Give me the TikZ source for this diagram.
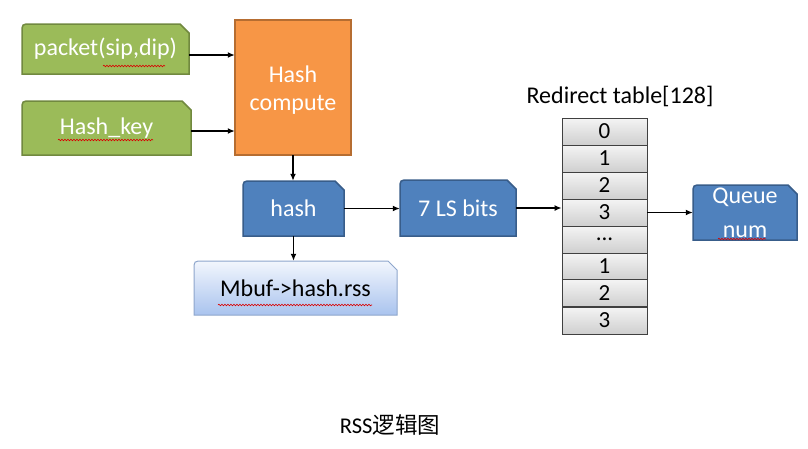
\documentclass[tikz,border=0pt]{standalone}
\usepackage{fontspec}
\setmainfont{Carlito}
\newfontfamily\cjk{Noto Sans CJK SC}
\usetikzlibrary{arrows.meta,calc,decorations.pathmorphing}
\definecolor{grfill}{HTML}{9BBB59}
\definecolor{grline}{HTML}{71893F}
\definecolor{orfill}{HTML}{F79646}
\definecolor{orline}{HTML}{B66D31}
\definecolor{blfill}{HTML}{4F81BD}
\definecolor{blline}{HTML}{385D8A}
\definecolor{mbtop}{HTML}{F2F6FD}
\definecolor{mbbot}{HTML}{A9C3EE}
\definecolor{mbline}{HTML}{8EA6CC}
\definecolor{cltop}{HTML}{F4F4F4}
\definecolor{clbot}{HTML}{CFCFCF}
\definecolor{clline}{HTML}{404040}
\tikzset{
  greenbox/.style={fill=grfill,draw=grline,line width=1.5pt},
  orangebox/.style={fill=orfill,draw=orline,line width=1.5pt},
  bluebox/.style={fill=blfill,draw=blline,line width=1.5pt},
  mbufbox/.style={top color=mbtop,bottom color=mbbot,draw=mbline,line width=1pt},
  boxtext/.style={inner sep=0pt,text=white,font=\fontsize{24}{28}\selectfont,align=center},
  cell/.style={minimum width=85pt,minimum height=27pt,inner sep=0pt,top color=cltop,bottom color=clbot,draw=clline,line width=0.8pt},
  celltext/.style={inner sep=0pt,font=\fontsize{23}{26}\selectfont},
  link/.style={line width=1.6pt,-{Latex[length=7pt,width=6pt]}},
  squiggle/.style={red!85!black,line width=0.6pt,decorate,decoration={snake,amplitude=0.8pt,segment length=3pt}}
}
% #1 name, #2 shape style, #3 x1, #4 y1, #5 x2, #6 y2, #7 text style, #8 text
\newcommand\snipnode[8]{%
  \path[#2] (#3,#6) -- (#3,#4+9) .. controls (#3,#4) .. (#3+9,#4) -- (#5-9,#4) -- (#5,#4+9) -- (#5,#6) -- cycle;
  \node[boxtext,#7,minimum width={#5-#3},minimum height={#6-#4}] (#1) at ({(#3+#5)/2},{(#4+#6)/2}) {#8};
}
% #1 name, #2 center y, #3 text
\newcommand\tcell[3]{%
  \node[cell] (#1) at (604.5,#2) {};
  \node[celltext] (#1txt) at (604.5,#2) {#3};
}
\begin{document}
\begin{tikzpicture}[x=1pt,y=-1pt]
\useasboundingbox[fill=white] (0,0) rectangle (808,448);

% input boxes
\snipnode{pk}{greenbox}{22}{24}{189}{74}{}{packet(sip,dip)}
\snipnode{hk}{greenbox}{22}{101}{191}{155}{}{Hash\_key}
% hash compute
\path[orangebox] (235,20) rectangle (351,155);
\node[minimum width=116pt,minimum height=135pt,inner sep=0pt] (hc) at (293,87.5) {};
\node[boxtext] (hct) at (293,90) {Hash\\compute};
% hash
\snipnode{hs}{bluebox}{243}{181}{344}{236}{}{hash}
% mbuf
\snipnode{mb}{mbufbox}{194}{261}{397}{315}{text=black}{Mbuf->hash.rss}
% 7 LS bits
\snipnode{ls}{bluebox}{400}{180}{516}{236}{}{7 LS bits}
% queue
\snipnode{qn}{bluebox}{693}{185}{797}{240}{font=\fontsize{24}{34}\selectfont}{Queue\\num}

% table
\node[font=\fontsize{24}{28}\selectfont] (tt) at (620,96) {Redirect table[128]};
\tcell{t0}{131.5}{0}
\tcell{t1}{158.5}{1}
\tcell{t2}{185.5}{2}
\tcell{t3}{212.5}{3}
\tcell{t4}{239.5}{...}
\tcell{t5}{266.5}{1}
\tcell{t6}{293}{2}
\tcell{t7}{320.5}{3}

% caption
\node[font=\fontsize{22.5}{26}\selectfont,text=black] (cap) at (390,425) {RSS{\cjk 逻辑图}};

% connectors
\coordinate (a1) at ($(pk.east)+(0,6)$);
\coordinate (a2) at ($(hk.east)+(0,3)$);
\draw[link] (a1) -- (a1 -| hc.west);
\draw[link] (a2) -- (a2 -| hc.west);
\draw[link] (hc.south) -- (hc.south |- hs.north);
\draw[link] (hs.south) -- (hs.south |- mb.north);
\draw[link] (hs.east) -- (hs.east -| ls.west);
\draw[link] (ls.east) -- (ls.east -| t3.west);
\draw[link] (t3.east) -- (t3.east -| qn.west);

% spell-check squiggles
\draw[squiggle] (103,66) -- (165,66);
\draw[squiggle] (58,140) -- (153,140);
\draw[squiggle] (218,305) -- (372,305);
\draw[squiggle] (718,239) -- (766,239);
\end{tikzpicture}
\end{document}
